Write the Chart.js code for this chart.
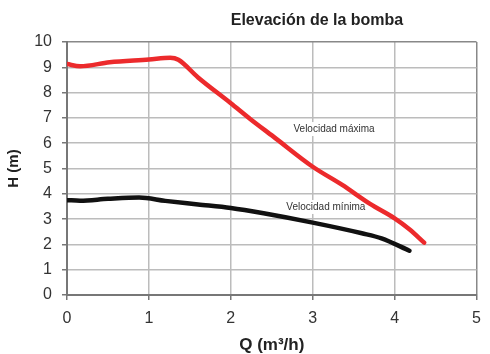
<!DOCTYPE html>
<html>
<head>
<meta charset="utf-8">
<script src="https://cdn.jsdelivr.net/npm/chart.js@4"></script>
<style>
html,body{margin:0;padding:0;background:#fff;}
#wrap{width:490px;height:354px;}
</style>
</head>
<body>
<div id="wrap"><canvas id="c" width="490" height="354"></canvas></div>
<script>
const chartTitle = "Elevación de la bomba";
const xTitle = "Q (m³/h)";
const yTitle = "H (m)";
const xTicks = [0, 1, 2, 3, 4, 5];
const yTicks = [0, 1, 2, 3, 4, 5, 6, 7, 8, 9, 10];

const qMax = [0, 0.16, 0.52, 1.0, 1.26, 1.36, 1.6, 2.0, 2.24, 2.52, 3.0, 3.36, 3.7, 4.0, 4.18, 4.36];
const hMax = [9.13, 9.04, 9.2, 9.31, 9.38, 9.3, 8.6, 7.58, 6.95, 6.26, 5.07, 4.35, 3.6, 3.03, 2.6, 2.07];
const qMin = [0, 0.16, 0.5, 0.88, 1.2, 1.6, 2.0, 2.4, 3.0, 3.6, 3.84, 4.18];
const hMin = [3.75, 3.73, 3.8, 3.85, 3.72, 3.58, 3.44, 3.23, 2.86, 2.44, 2.24, 1.75];

const labelMax = {text: "Velocidad máxima", q: 3.26, h: 6.56};
const labelMin = {text: "Velocidad mínima", q: 3.16, h: 3.48};

const toPts = (xs, ys) => xs.map((x, i) => ({x: x, y: ys[i]}));

const FONT = "'Liberation Sans', Arial, sans-serif";

const overlay = {
  id: 'overlay',
  beforeDatasetsDraw(chart) {
    const ctx = chart.ctx;
    const xs = chart.scales.x, ys = chart.scales.y;
    ctx.save();
    ctx.font = "10px " + FONT;
    ctx.textAlign = 'center';
    ctx.textBaseline = 'middle';
    [labelMax, labelMin].forEach(l => {
      const px = xs.getPixelForValue(l.q), py = ys.getPixelForValue(l.h);
      const w = ctx.measureText(l.text).width;
      ctx.fillStyle = '#fff';
      ctx.fillRect(px - w / 2 - 3, py - 7, w + 6, 14);
      ctx.fillStyle = '#333';
      ctx.fillText(l.text, px, py);
    });
    ctx.restore();
  },
  afterDraw(chart) {
    const ctx = chart.ctx;
    ctx.save();
    ctx.font = "bold 16px " + FONT;
    ctx.fillStyle = '#222';
    ctx.textAlign = 'center';
    ctx.textBaseline = 'middle';
    ctx.fillText(chartTitle, 317, 21);
    ctx.restore();
  }
};

new Chart(document.getElementById('c'), {
  type: 'line',
  data: {
    datasets: [
      {data: toPts(qMax, hMax), borderColor: '#ec2a2c', borderWidth: 4.5, pointRadius: 0, tension: 0.4, cubicInterpolationMode: 'monotone', borderCapStyle: 'round', fill: false},
      {data: toPts(qMin, hMin), borderColor: '#111', borderWidth: 4.5, pointRadius: 0, tension: 0.4, cubicInterpolationMode: 'monotone', borderCapStyle: 'round', fill: false}
    ]
  },
  options: {
    responsive: false,
    animation: false,
    layout: {padding: {top: 42, right: 7, left: 0, bottom: 0}},
    plugins: {legend: {display: false}, tooltip: {enabled: false}, title: {display: false}},
    scales: {
      x: {
        type: 'linear', min: 0, max: 5,
        afterBuildTicks(s) { s.ticks = xTicks.map(v => ({value: v})); },
        afterFit(s) { s.height = 59; },
        ticks: {color: '#333', font: {family: FONT, size: 16}, padding: 9, maxRotation: 0},
        grid: {color: c => (c.tick && c.tick.value === 5) ? '#888' : '#bcbcbc', lineWidth: 1.5, tickLength: 5, tickColor: '#777', drawTicks: true},
        border: {color: '#777', width: 2},
        title: {display: true, text: xTitle, color: '#222', font: {family: FONT, size: 17, weight: 'bold', lineHeight: 1}, padding: {top: 0, bottom: 0}}
      },
      y: {
        type: 'linear', min: 0, max: 10,
        afterBuildTicks(s) { s.ticks = yTicks.map(v => ({value: v})); },
        afterFit(s) { s.width = 67; },
        ticks: {color: '#333', font: {family: FONT, size: 16}, padding: 10},
        grid: {color: c => (c.tick && c.tick.value === 10) ? '#888' : '#bcbcbc', lineWidth: 1.5, tickLength: 5, tickColor: '#777', drawTicks: true},
        border: {color: '#777', width: 2},
        title: {display: true, text: yTitle, color: '#222', font: {family: FONT, size: 15, weight: 'bold', lineHeight: 1.2}, padding: {top: 5, bottom: 0}}
      }
    }
  },
  plugins: [overlay]
});
</script>
</body>
</html>
